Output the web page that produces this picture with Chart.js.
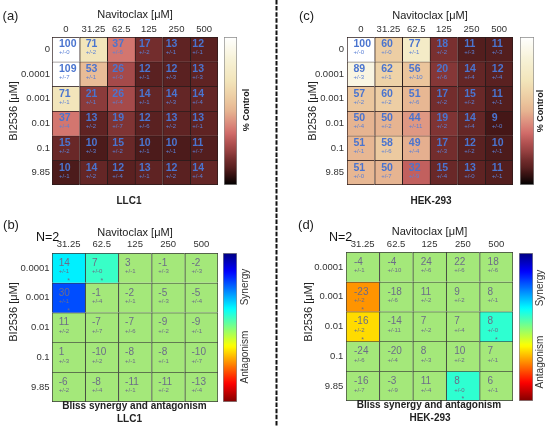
<!DOCTYPE html>
<html><head><meta charset="utf-8">
<script src="https://cdn.jsdelivr.net/npm/chart.js@4.4.1/dist/chart.umd.min.js"></script>
<style>
html,body{margin:0;padding:0;background:#fff;width:550px;height:427px;overflow:hidden;}
canvas{position:absolute;}
</style></head><body>
<canvas id="divider" style="left:0;top:0" width="550" height="427"></canvas>
<canvas id="pa" style="left:0;top:0" width="275" height="210"></canvas>
<canvas id="pc" style="left:275px;top:0" width="275" height="210"></canvas>
<canvas id="pb" style="left:0;top:210px" width="275" height="217"></canvas>
<canvas id="pd" style="left:275px;top:210px" width="275" height="217"></canvas>
<canvas id="ca" style="left:224px;top:37px" width="13" height="148"></canvas>
<canvas id="cc" style="left:520px;top:37px" width="14" height="148"></canvas>
<canvas id="cb" style="left:223px;top:253px" width="14" height="149"></canvas>
<canvas id="cd" style="left:519px;top:253px" width="14" height="148"></canvas>
<script>
// ---------------- DATA ----------------
const controlCols = ['0','31.25','62.5','125','250','500'];
const controlRows = ['0','0.0001','0.001','0.01','0.1','9.85'];
const blissCols = ['31.25','62.5','125','250','500'];
const blissRows = ['0.0001','0.001','0.01','0.1','9.85'];

const llc1Control = [
 [100,71,37,17,13,12],
 [109,53,26,12,12,13],
 [71,21,26,14,14,14],
 [37,13,19,12,13,13],
 [15,10,15,10,10,11],
 [10,14,12,13,12,14]];
const llc1ControlErr = [
 [0,2,6,2,1,1],
 [7,1,0,1,3,3],
 [1,1,4,1,3,4],
 [4,2,7,6,2,1],
 [2,3,2,1,1,7],
 [1,2,4,1,2,4]];
const hekControl = [
 [100,60,77,18,11,11],
 [89,62,56,20,14,12],
 [57,60,51,17,15,11],
 [50,50,44,19,14,9],
 [51,58,49,17,12,10],
 [51,50,32,15,13,11]];
const hekControlErr = [
 [0,0,1,2,3,3],
 [3,1,10,6,4,4],
 [2,2,6,2,2,1],
 [4,2,11,2,4,0],
 [1,6,4,3,2,1],
 [0,7,9,4,0,1]];
const llc1Bliss = [
 [14,7,3,-1,-2],
 [30,-1,-2,-5,-5],
 [11,-7,-7,-9,-9],
 [1,-10,-8,-8,-10],
 [-6,-8,-11,-11,-13]];
const llc1BlissErr = [
 [1,0,1,3,3],
 [1,4,1,3,4],
 [2,7,6,2,1],
 [3,2,1,1,7],
 [2,4,1,2,4]];
const llc1BlissSig = [
 [1,1,0,0,0],
 [1,0,0,0,0],
 [0,0,0,0,0],
 [0,0,0,0,0],
 [0,0,0,0,0]];
const hekBliss = [
 [-4,-4,24,22,18],
 [-23,-18,11,9,8],
 [-16,-14,7,7,8],
 [-24,-20,8,10,7],
 [-16,-3,11,8,6]];
const hekBlissErr = [
 [1,10,6,6,6],
 [2,6,2,2,1],
 [2,11,2,4,0],
 [6,4,3,2,1],
 [7,9,4,0,1]];
const hekBlissSig = [
 [0,0,0,0,0],
 [1,0,0,0,0],
 [1,0,0,0,1],
 [0,0,0,0,0],
 [0,0,0,1,0]];

// ---------------- STYLE ----------------
const FONT = '"Liberation Sans", Arial, Helvetica, sans-serif';
const pinkStops = [[0,[0,0,0]],[8,[62,20,20]],[12,[90,33,33]],[17,[115,45,45]],[22,[145,62,62]],[28,[175,80,80]],[35,[208,108,105]],[42,[220,142,126]],[50,[230,180,145]],[58,[236,202,160]],[70,[242,228,185]],[85,[247,242,215]],[100,[255,255,255]]];
function pinkColor(v){
  v = Math.max(0, Math.min(100, v));
  for (let k=1;k<pinkStops.length;k++){
    const [v1,c1]=pinkStops[k-1],[v2,c2]=pinkStops[k];
    if (v<=v2){const f=(v-v1)/(v2-v1);return 'rgb('+c1.map((c,i)=>Math.round(c+(c2[i]-c)*f)).join(',')+')';}
  }
  return 'rgb(255,255,255)';
}
function jet(s){
  const c=v=>Math.round(255*Math.max(0,Math.min(1,v)));
  return 'rgb('+c(1.5-Math.abs(4*s-3))+','+c(1.5-Math.abs(4*s-2))+','+c(1.5-Math.abs(4*s-1))+')';
}
const BLISS_MAX = 50;
function blissColor(v, sig){ return sig ? jet((BLISS_MAX - v)/(2*BLISS_MAX)) : '#a4e87a'; }

// divider
(function(){
  const c=document.getElementById('divider').getContext('2d');
  c.strokeStyle='#111'; c.lineWidth=2; c.setLineDash([4.5,1.6]);
  c.beginPath(); c.moveTo(276.5,0); c.lineTo(276.5,427); c.stroke();
})();

function cellTextPlugin(cfg){
  return {
    id:'cellText',
    afterDatasetsDraw(chart){
      const c=chart.ctx; c.save();
      chart.data.datasets.forEach((ds,i)=>{
        chart.getDatasetMeta(i).data.forEach((bar,j)=>{
          const p=bar.getProps(['x','y','base','width'],true);
          const top=Math.min(p.y,p.base), h=Math.abs(p.base-p.y), left=p.x-p.width/2;
          const tx=left+cfg.xOff(j);
          c.textAlign='left'; c.textBaseline='middle';
          c.fillStyle=cfg.numColor; c.font=cfg.numFont;
          c.fillText(String(cfg.values[i][j]), tx, top+h*cfg.numY);
          c.fillStyle=cfg.errColor; c.font=cfg.errFont;
          c.fillText('+/-'+cfg.errs[i][j], tx, top+h*cfg.errY);
          if (cfg.sig && cfg.sig[i][j]) {
            c.textAlign='center'; c.font='7px '+FONT;
            c.fillText('*', p.x, top+h*0.95);
          }
        });
      });
      c.restore();
    }
  };
}
function extrasPlugin(cfg){
  return {
    id:'extras',
    afterDraw(chart){
      const c=chart.ctx;
      cfg.extras.forEach(e=>{
        c.save();
        c.translate(e.x-cfg.left, e.y-cfg.top);
        if (e.rot) c.rotate(e.rot);
        c.font=e.font; c.fillStyle=e.color||'#222';
        c.textAlign=e.align||'center'; c.textBaseline='middle';
        c.fillText(e.text,0,0);
        c.restore();
      });
    }
  };
}

function heatPanel(cfg){
  const canvas=document.getElementById(cfg.id);
  const W=canvas.width, H=canvas.height;
  const nR=cfg.rows.length, nC=cfg.cols.length;
  const datasets=cfg.rows.map((r,i)=>({
    label:r,
    data:cfg.cols.map(()=>1),
    backgroundColor:cfg.cols.map((c,j)=>cfg.color(cfg.values[i][j], cfg.sig?cfg.sig[i][j]:1)),
    borderColor:cfg.border,
    borderWidth:ctx=>({top:1,left:1,right:ctx.dataIndex===nC-1?1:0,bottom:ctx.datasetIndex===nR-1?1:0}),
    borderSkipped:false,
    barPercentage:1, categoryPercentage:1
  }));
  new Chart(canvas,{
    type:'bar',
    data:{labels:cfg.cols, datasets},
    options:{
      responsive:false, animation:false,
      layout:{padding:{left:0,top:0,right:W-(cfg.area.r-cfg.left),bottom:H-(cfg.area.b-cfg.top)}},
      plugins:{legend:{display:false},tooltip:{enabled:false}},
      scales:{
        x:{type:'category',position:'top',stacked:true,offset:true,
          grid:{display:false,drawTicks:false},border:{display:false},
          ticks:{color:'#333',font:{family:FONT,size:9.5},padding:cfg.xTickPad,maxRotation:0,autoSkip:false},
          title:{display:true,text:'Navitoclax [μM]',color:'#222',font:{family:FONT,size:11},padding:{top:cfg.xTitlePad,bottom:0}},
          afterFit:s=>{s.height=cfg.area.t-cfg.top;}},
        y:{type:'linear',min:0,max:nR,reverse:true,stacked:true,
          grid:{display:false,drawTicks:false},border:{display:false},
          afterBuildTicks:s=>{s.ticks=cfg.rows.map((r,i)=>({value:i+0.5}));},
          ticks:{color:'#333',font:{family:FONT,size:9.5},padding:cfg.yTickPad,callback:(v,i)=>cfg.rows[i]},
          title:{display:cfg.yTitlePad!==null,text:'BI2536 [μM]',color:'#222',font:{family:FONT,size:11},padding:{top:cfg.yTitlePad||0,bottom:0}},
          afterFit:s=>{s.width=cfg.area.l-cfg.left;}}
      }
    },
    plugins:[cellTextPlugin(cfg), extrasPlugin(cfg)]
  });
}

function colorBar(id, min, max, colorAt){
  new Chart(document.getElementById(id),{
    type:'bar',
    data:{labels:[''],datasets:[{data:[[min,max]],
      backgroundColor:ctx=>{
        const a=ctx.chart.chartArea; if(!a) return 'transparent';
        const g=ctx.chart.ctx.createLinearGradient(0,a.top,0,a.bottom);
        for(let k=0;k<=60;k++){const f=k/60; g.addColorStop(f, colorAt(max-(max-min)*f));}
        return g;
      },
      borderColor:'#8a8a8a',borderWidth:1,borderSkipped:false,barPercentage:1,categoryPercentage:1}]},
    options:{responsive:false,animation:false,layout:{padding:0},
      plugins:{legend:{display:false},tooltip:{enabled:false}},
      scales:{x:{display:false},y:{display:false,min,max}}}
  });
}

const numBlue='#4a74cf', errBlue='#5b80d6', numGray='#6c6c88';
const bold10='bold 10px '+FONT;

heatPanel({id:'pa',left:0,top:0,area:{l:52,t:37,r:218,b:185},
  cols:controlCols,rows:controlRows,values:llc1Control,errs:llc1ControlErr,
  color:v=>pinkColor(v),border:'#2a1c1c',
  xTitlePad:8.4,xTickPad:2.3,yTitlePad:7.4,yTickPad:2,
  xOff:j=>7-j,numColor:numBlue,numFont:'bold 10.5px '+FONT,numY:0.3,errColor:errBlue,errFont:'6px '+FONT,errY:0.63,
  extras:[
    {text:'(a)',x:10.5,y:16,font:'13px '+FONT},
    {text:'LLC1',x:129,y:201,font:bold10},
    {text:'% Control',x:246.5,y:110,rot:-Math.PI/2,font:'bold 9px '+FONT}
  ]});
heatPanel({id:'pc',left:275,top:0,area:{l:347,t:37,r:513,b:185},
  cols:controlCols,rows:controlRows,values:hekControl,errs:hekControlErr,
  color:v=>pinkColor(v),border:'#2a1c1c',
  xTitlePad:9,xTickPad:2.3,yTitlePad:30.9,yTickPad:3,
  xOff:j=>6.5,numColor:numBlue,numFont:'bold 10.5px '+FONT,numY:0.3,errColor:errBlue,errFont:'6px '+FONT,errY:0.63,
  extras:[
    {text:'(c)',x:306.5,y:16,font:'13px '+FONT},
    {text:'HEK-293',x:431,y:201,font:bold10},
    {text:'% Control',x:541,y:111,rot:-Math.PI/2,font:'bold 9px '+FONT}
  ]});
heatPanel({id:'pb',left:0,top:210,area:{l:52,t:253,r:218,b:402},
  cols:blissCols,rows:blissRows,values:llc1Bliss,errs:llc1BlissErr,sig:llc1BlissSig,
  color:blissColor,border:'#3a3a3a',
  xTitlePad:16.4,xTickPad:3.3,yTitlePad:null,yTickPad:2.4,
  xOff:j=>6.7,numColor:numGray,numFont:'10px '+FONT,numY:0.335,errColor:numGray,errFont:'6px '+FONT,errY:0.62,
  extras:[
    {text:'(b)',x:11,y:225,font:'13px '+FONT},
    {text:'N=2',x:36,y:238,align:'left',font:'12.5px '+FONT,color:'#111'},
    {text:'BI2536 [μM]',x:14,y:312,rot:-Math.PI/2,font:'11px '+FONT},
    {text:'Bliss synergy and antagonism',x:134.5,y:406,font:bold10},
    {text:'LLC1',x:129.5,y:419.5,font:bold10},
    {text:'Synergy',x:245,y:287,rot:-Math.PI/2,font:'10px '+FONT,color:'#333'},
    {text:'Antagonism',x:245,y:357,rot:-Math.PI/2,font:'10px '+FONT,color:'#333'}
  ]});
heatPanel({id:'pd',left:275,top:210,area:{l:346,t:252,r:513,b:401},
  cols:blissCols,rows:blissRows,values:hekBliss,errs:hekBlissErr,sig:hekBlissSig,
  color:blissColor,border:'#3a3a3a',
  xTitlePad:15.4,xTickPad:2.3,yTitlePad:null,yTickPad:2.7,
  xOff:j=>8,numColor:numGray,numFont:'10px '+FONT,numY:0.34,errColor:numGray,errFont:'6px '+FONT,errY:0.63,
  extras:[
    {text:'(d)',x:306,y:225,font:'13px '+FONT},
    {text:'N=2',x:329,y:238,align:'left',font:'12.5px '+FONT,color:'#111'},
    {text:'BI2536 [μM]',x:308.5,y:312,rot:-Math.PI/2,font:'11px '+FONT},
    {text:'Bliss synergy and antagonism',x:429,y:405.5,font:bold10},
    {text:'HEK-293',x:430,y:418.5,font:bold10},
    {text:'Synergy',x:540,y:288,rot:-Math.PI/2,font:'10px '+FONT,color:'#333'},
    {text:'Antagonism',x:540,y:362,rot:-Math.PI/2,font:'10px '+FONT,color:'#333'}
  ]});

colorBar('ca',0,100,pinkColor);
colorBar('cc',0,100,pinkColor);
colorBar('cb',-BLISS_MAX,BLISS_MAX,v=>blissColor(v,1));
colorBar('cd',-BLISS_MAX,BLISS_MAX,v=>blissColor(v,1));
</script>
</body></html>
